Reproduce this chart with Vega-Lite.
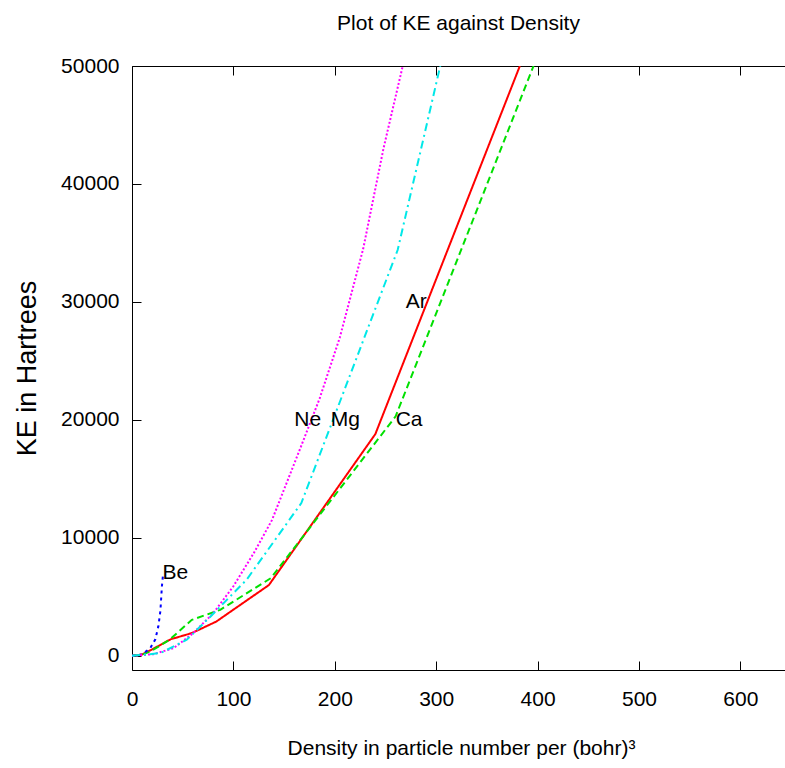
{
  "$schema": "https://vega.github.io/schema/vega-lite/v6.json",
  "width": 653,
  "height": 604,
  "autosize": {"type": "none"},
  "padding": {"left": 132, "top": 66, "right": 0, "bottom": 98},
  "background": "white",
  "config": {
    "view": {"stroke": null},
    "font": "Liberation Sans",
    "axis": {"grid": false, "domainColor": "black", "tickColor": "black", "labelColor": "black", "titleColor": "black", "domainWidth": 1, "tickWidth": 1}
  },
  "title": {
    "text": "Plot of KE against Density",
    "font": "Liberation Sans",
    "fontSize": 21,
    "fontWeight": "normal",
    "color": "black",
    "anchor": "middle",
    "baseline": "bottom",
    "offset": 0
  },
  "datasets": {
    "curves": [
      {"el": "Ar", "x": 0, "y": 0}, {"el": "Ar", "x": 10, "y": 120}, {"el": "Ar", "x": 20, "y": 550}, {"el": "Ar", "x": 38, "y": 1400}, {"el": "Ar", "x": 59, "y": 1930}, {"el": "Ar", "x": 83, "y": 2900}, {"el": "Ar", "x": 135, "y": 6000}, {"el": "Ar", "x": 240, "y": 18800}, {"el": "Ar", "x": 382.5, "y": 50000},
      {"el": "Ca", "x": 0, "y": 0}, {"el": "Ca", "x": 10, "y": 100}, {"el": "Ca", "x": 18, "y": 360}, {"el": "Ca", "x": 37, "y": 1360}, {"el": "Ca", "x": 59, "y": 3050}, {"el": "Ca", "x": 87, "y": 3900}, {"el": "Ca", "x": 137, "y": 6590}, {"el": "Ca", "x": 260, "y": 20300}, {"el": "Ca", "x": 396, "y": 50000},
      {"el": "Be", "x": 0, "y": 0}, {"el": "Be", "x": 10, "y": 120}, {"el": "Be", "x": 18, "y": 650}, {"el": "Be", "x": 23, "y": 1400}, {"el": "Be", "x": 26, "y": 2500}, {"el": "Be", "x": 28, "y": 3800}, {"el": "Be", "x": 29.5, "y": 5900}, {"el": "Be", "x": 30.5, "y": 6800},
      {"el": "Ne", "x": 0, "y": 0}, {"el": "Ne", "x": 21, "y": 140}, {"el": "Ne", "x": 41, "y": 650}, {"el": "Ne", "x": 60, "y": 1900}, {"el": "Ne", "x": 80, "y": 3600}, {"el": "Ne", "x": 100, "y": 5900}, {"el": "Ne", "x": 120, "y": 8700}, {"el": "Ne", "x": 138, "y": 11500}, {"el": "Ne", "x": 166, "y": 17600}, {"el": "Ne", "x": 185, "y": 21800}, {"el": "Ne", "x": 205, "y": 27000}, {"el": "Ne", "x": 228, "y": 34500}, {"el": "Ne", "x": 248, "y": 43000}, {"el": "Ne", "x": 267, "y": 50000},
      {"el": "Mg", "x": 0, "y": 0}, {"el": "Mg", "x": 28, "y": 230}, {"el": "Mg", "x": 54, "y": 1360}, {"el": "Mg", "x": 77, "y": 3300}, {"el": "Mg", "x": 113, "y": 6450}, {"el": "Mg", "x": 167, "y": 12950}, {"el": "Mg", "x": 262, "y": 34400}, {"el": "Mg", "x": 304, "y": 50000}
    ],
    "labels": [
      {"label": "Be", "x": 30, "y": 7000},
      {"label": "Ne", "x": 160, "y": 20000},
      {"label": "Mg", "x": 196, "y": 20000},
      {"label": "Ca", "x": 260, "y": 20000},
      {"label": "Ar", "x": 270, "y": 30000}
    ]
  },
  "resolve": {"axis": {"x": "independent", "y": "independent"}},
  "layer": [
    {
      "mark": {"type": "rule", "color": "black", "strokeWidth": 1, "strokeDash": [1, 2]},
      "encoding": {
        "y": {"datum": 0, "type": "quantitative", "scale": {"domain": [-1200, 50000], "nice": false, "zero": false}, "axis": null}
      }
    },
    {
      "data": {"name": "curves"},
      "mark": {"type": "line", "strokeWidth": 2, "clip": true},
      "encoding": {
        "x": {
          "field": "x", "type": "quantitative",
          "scale": {"domain": [0, 644], "nice": false, "zero": false},
          "axis": {
            "orient": "bottom",
            "values": [0, 100, 200, 300, 400, 500, 600],
            "format": "d",
            "tickSize": -9,
            "labelPadding": 44,
            "labelBaseline": "alphabetic",
            "labelFlush": false,
            "labelFont": "Liberation Sans",
            "labelFontSize": 21,
            "title": "Density in particle number per (bohr)³",
            "titleFont": "Liberation Sans",
            "titleFontSize": 21,
            "titleFontWeight": "normal",
            "titleX": 329,
            "titleY": 84,
            "titleBaseline": "alphabetic",
            "titleAlign": "center"
          }
        },
        "y": {
          "field": "y", "type": "quantitative",
          "scale": {"domain": [-1200, 50000], "nice": false, "zero": false},
          "axis": {
            "orient": "left",
            "values": [0, 10000, 20000, 30000, 40000, 50000],
            "format": "d",
            "tickSize": -9,
            "labelPadding": 22,
            "labelFlush": false,
            "labelFont": "Liberation Sans",
            "labelFontSize": 21,
            "labelBaseline": "middle",
            "title": "KE in Hartrees",
            "titleFont": "Liberation Sans",
            "titleFontSize": 27,
            "titleFontWeight": "normal",
            "titleAngle": -90,
            "titleX": -97,
            "titleY": 302,
            "titleBaseline": "alphabetic",
            "titleAlign": "center"
          }
        },
        "color": {
          "field": "el", "type": "nominal",
          "scale": {"domain": ["Ar", "Ca", "Be", "Ne", "Mg"], "range": ["#ff0000", "#00e000", "#0000ff", "#ff00ff", "#00e8e8"]},
          "legend": null
        },
        "strokeDash": {
          "field": "el", "type": "nominal",
          "scale": {"domain": ["Ar", "Ca", "Be", "Ne", "Mg"], "range": [[1, 0], [7, 4], [3, 4], [2, 2], [8, 4, 2, 4]]},
          "legend": null
        }
      }
    },
    {
      "data": {"name": "labels"},
      "mark": {"type": "text", "align": "left", "baseline": "middle", "font": "Liberation Sans", "fontSize": 21, "color": "black"},
      "encoding": {
        "x": {
          "field": "x", "type": "quantitative",
          "scale": {"domain": [0, 644], "nice": false, "zero": false},
          "axis": {"orient": "top", "values": [0, 100, 200, 300, 400, 500, 600], "labels": false, "tickSize": -9, "title": null, "domain": true}
        },
        "y": {
          "field": "y", "type": "quantitative",
          "scale": {"domain": [-1200, 50000], "nice": false, "zero": false},
          "axis": null
        },
        "text": {"field": "label", "type": "nominal"}
      }
    }
  ]
}
